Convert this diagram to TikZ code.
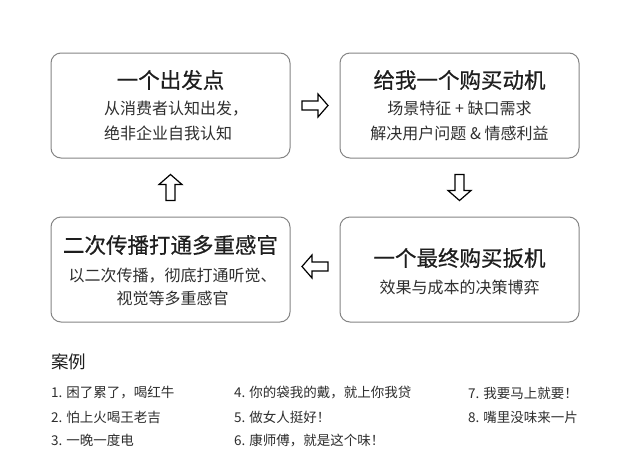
\documentclass[tikz,border=0pt]{standalone}
\usepackage{fontspec}
\setmainfont{Noto Sans CJK SC}
\newfontfamily\headfont[FakeBold=0.5]{Noto Sans CJK SC}
\usetikzlibrary{calc}
\definecolor{boxgray}{HTML}{858585}
\definecolor{inkgray}{HTML}{2E2E2E}
\definecolor{headgray}{HTML}{1E1E1E}

\tikzset{
	BlockArrow/.pic={
        code={
\draw[black,line width=1.2pt,fill=white,line join=miter] (-13,-4.5)--(3,-4.5)--(3,-11.5)--(13,0)--(3,11.5)--(3,4.5)--(-13,4.5)--cycle;
							}
	}
}
\tikzset{
	stage/.style={draw=boxgray,line width=1pt,rounded corners=10pt,minimum width=239pt,minimum height=105pt,inner sep=0pt},
	headline/.style={text=headgray,inner sep=0pt,font=\headfont\fontsize{21.5pt}{26pt}\selectfont},
	subline/.style={text=inkgray,inner sep=0pt,align=center,font=\fontsize{16pt}{25pt}\selectfont},
	caseitem/.style={text=inkgray,inner sep=0pt,anchor=west,font=\fontsize{13.5pt}{16pt}\selectfont}
}

\begin{document}
\begin{tikzpicture}[x=1pt,y=-1pt]
\useasboundingbox[fill=white] (0,0) rectangle (640,472);

%Kaesten
\node[stage] (start) at (170.5,105.5) {};
\node[stage] (motive) at (459.5,105.5) {};
\node[stage] (senses) at (170.5,269.5) {};
\node[stage] (trigger) at (459.5,269.5) {};

%Pfeile
\path ($(start.east)!0.5!(motive.west)$) pic {BlockArrow};
\path ($(motive.south)!0.5!(trigger.north)$) pic[rotate=-90] {BlockArrow};
\path ($(trigger.west)!0.5!(senses.east)+(0,-3)$) pic[rotate=180] {BlockArrow};
\path ($(senses.north)!0.5!(start.south)$) pic[rotate=90] {BlockArrow};

%Texte
\node[headline] (starthead) at (170.5,80) {一个出发点};
\node[subline,align=left,anchor=west] (starttext) at (104,120.5) {从消费者认知出发，\\绝非企业自我认知};

\node[headline] (motivehead) at (459.5,80) {给我一个购买动机};
\node[subline] (motivetext) at (459.5,120.5) {场景特征 + 缺口需求\\解决用户问题 \& 情感利益};

\node[headline] (senseshead) at (170.5,245) {二次传播打通多重感官};
\node[subline,font=\fontsize{16pt}{23pt}\selectfont] (sensestext) at (172.5,286.5) {以二次传播，彻底打通听觉、\\视觉等多重感官};

\node[headline] (triggerhead) at (459.5,258) {一个最终购买扳机};
\node[subline] (triggertext) at (459.5,287) {效果与成本的决策博弈};

%Beispiele
\node[caseitem,text=headgray,font=\fontsize{17.5pt}{20pt}\selectfont] (cases) at (51,362) {案例};
\node[caseitem] (case1) at (51,393) {1. 困了累了，喝红牛};
\node[caseitem] (case2) at (51,417) {2. 怕上火喝王老吉};
\node[caseitem] (case3) at (51,440) {3. 一晚一度电};
\node[caseitem] (case4) at (234,393) {4. 你的袋我的戴，就上你我贷};
\node[caseitem] (case5) at (234,417) {5. 做女人挺好！};
\node[caseitem] (case6) at (234,440) {6. 康师傅，就是这个味！};
\node[caseitem] (case7) at (468,393) {7. 我要马上就要！};
\node[caseitem] (case8) at (468,417) {8. 嘴里没味来一片};
\end{tikzpicture}
\end{document}
